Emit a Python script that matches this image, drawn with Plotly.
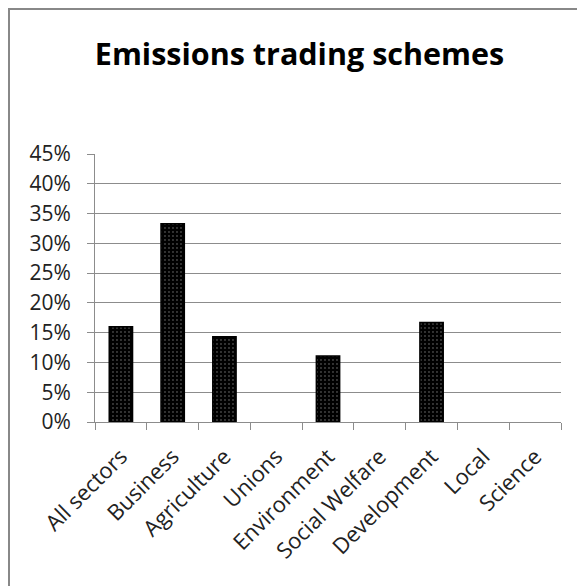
import plotly.graph_objects as go

categories = ["All sectors", "Business", "Agriculture", "Unions", "Environment",
              "Social Welfare", "Development", "Local", "Science"]
values = [0.16, 0.333, 0.143, 0, 0.111, 0, 0.167, 0, 0]
y_ticks = [0, 0.05, 0.10, 0.15, 0.20, 0.25, 0.30, 0.35, 0.40, 0.45]
title_text = "Emissions trading schemes"

W, H = 585, 586
OFF = 8  # page body margin
ML, MT = 95 - OFF, 154 - OFF
MR = W - (561 - OFF)
MB = H - (422 - OFF)
pw, ph = W - ML - MR, H - MT - MB

fig = go.Figure()
fig.add_trace(go.Bar(
    x=categories, y=values,
    marker=dict(
        color="black",
        line=dict(color="black", width=[1.5 if v > 0 else 0 for v in values]),
        pattern=dict(shape=".", fgcolor="white", bgcolor="black", size=4, solidity=0.1),
    ),
    width=0.45,
    hoverinfo="x+y",
))

gray = "#8c8c8c"
fig.update_layout(
    width=W, height=H,
    margin=dict(l=ML, r=MR, t=MT, b=MB),
    paper_bgcolor="white", plot_bgcolor="white",
    showlegend=False,
    font=dict(family="Open Sans, Liberation Sans, sans-serif", color="#222"),
    title=dict(text="<b>" + title_text + "</b>", x=(299.5 - OFF) / W, xanchor="center",
               y=1 - (54 - OFF) / H, yanchor="middle",
               font=dict(size=30.5, color="black", family="Open Sans, sans-serif")),
)
fig.update_yaxes(
    range=[0, 0.45], tickvals=y_ticks, tickformat=".0%",
    showgrid=True, gridcolor=gray, gridwidth=1,
    showline=True, linecolor=gray, linewidth=1,
    ticks="outside", ticklen=7, tickcolor=gray,
    tickfont=dict(size=21, color="#222"), ticklabelstandoff=12,
    zeroline=False, fixedrange=True,
)
fig.update_xaxes(
    showline=True, linecolor=gray, linewidth=1,
    ticks="outside", ticklen=7, tickcolor=gray, tickson="boundaries",
    tickangle=-45, tickfont=dict(size=22, color="#222"), ticklabelstandoff=12,
    showgrid=False, fixedrange=True,
)
# outer chart-area border (left and top visible, rest cropped)
fig.add_shape(type="rect", xref="paper", yref="paper",
              x0=(1 - ML) / pw, x1=(W + 20 - ML) / pw,
              y0=-(MB + 30) / ph, y1=(H - MB - 1) / ph,
              line=dict(color="#888888", width=2), layer="below")

fig.write_html("out.html")
